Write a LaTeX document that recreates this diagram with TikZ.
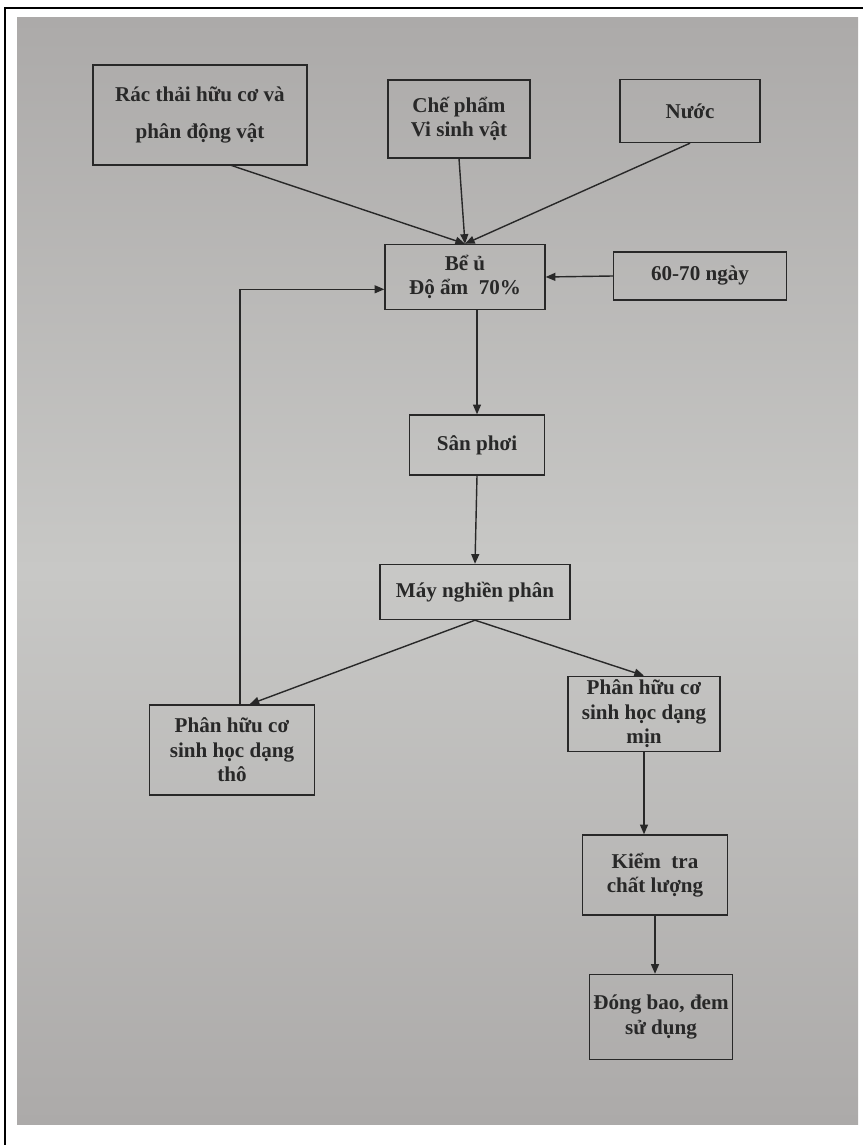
\documentclass[tikz,border=0pt]{standalone}
\usepackage{fontspec}
\setmainfont{Liberation Serif}
\usetikzlibrary{arrows.meta}
\definecolor{paper}{RGB}{200,200,198}
\definecolor{paperdark}{RGB}{172,170,169}
\definecolor{ink}{RGB}{40,40,40}
\tikzset{
  box/.style={draw=ink, line width=.8pt, align=center, text=ink,
    font=\fontsize{12}{14}\selectfont\bfseries, inner sep=2pt},
  flow/.style={draw=ink, line width=.8pt, -{Triangle[length=5.5pt,width=4.5pt]}},
  link/.style={draw=ink, line width=.8pt}
}
\begin{document}
\begin{tikzpicture}[x=0.02cm,y=-0.02cm]
\useasboundingbox (0,0) rectangle (863,1145);
% photo and frame
\shade[top color=paperdark, bottom color=paperdark, middle color=paper] (17,18) rectangle (858,1124);
\draw[line width=1.2pt] (5,1145) -- (5,8) -- (863,8);

% inputs
\node[box, minimum width=4.28cm, minimum height=2cm] (rac) at (200,115)
  {Rác thải hữu cơ và\\[7pt] phân động vật};
\node[box, minimum width=2.84cm, minimum height=1.56cm] (che) at (459,119)
  {Chế phẩm\\Vi sinh vật};
\node[box, minimum width=2.8cm, minimum height=1.26cm] (nuoc) at (690,111) {Nước};

% main line
\node[box, minimum width=3.2cm, minimum height=1.3cm] (beu) at (465,277)
  {Bể ủ\\Độ ẩm~~70\%};
\node[box, minimum width=3.46cm, minimum height=.96cm] (ngay) at (700,276) {60-70 ngày};
\node[box, minimum width=2.7cm, minimum height=1.2cm] (san) at (477,445) {Sân phơi};
\node[box, minimum width=3.8cm, minimum height=1.1cm] (may) at (475,592) {Máy nghiền phân};

% products
\node[box, minimum width=3.3cm, minimum height=1.8cm] (tho) at (232,750)
  {Phân hữu cơ\\sinh học dạng\\thô};
\node[box, minimum width=3.04cm, minimum height=1.36cm] (min) at (644,714)
  {Phân hữu cơ\\sinh học dạng\\mịn};
\node[box, minimum width=2.9cm, minimum height=1.6cm] (kt) at (655,875)
  {Kiểm~~tra\\chất lượng};
\node[box, minimum width=2.86cm, minimum height=1.7cm] (dong) at (661,1017)
  {Đóng bao, đem\\sử dụng};

\coordinate (racout) at (230,165);
\coordinate (loop) at (240,705);

\draw[flow] (racout) -- (beu.north);
\draw[flow] (che.south) -- (beu.north);
\draw[flow] (nuoc.south) -- (beu.north);
\draw[flow] (ngay.west) -- (beu.east);
\draw[flow] (loop) |- ([yshift=-7pt]beu.west);
\draw[flow] (beu.south -| san.north) -- (san.north);
\draw[flow] (san.south) -- (may.north);
\draw[flow] (may.south) -- ([xshift=10pt]tho.north);
\draw[flow] (may.south) -- (min.north);
\draw[flow] (min.south) -- (min.south |- kt.north);
\draw[flow] (kt.south) -- (kt.south |- dong.north);
\end{tikzpicture}
\end{document}
